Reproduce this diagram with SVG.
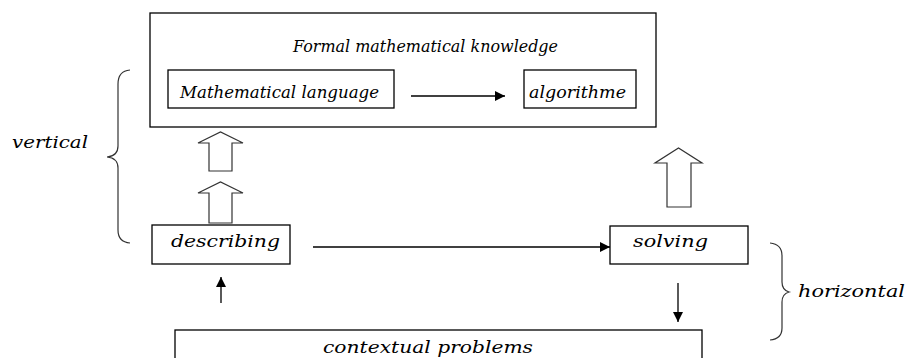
<svg xmlns="http://www.w3.org/2000/svg" width="907" height="358" viewBox="0 0 907 358">
<defs>
<marker id="ah" viewBox="0 0 10 10" refX="10" refY="5" markerWidth="10" markerHeight="10" markerUnits="userSpaceOnUse" orient="auto">
<path d="M0,0 L10,5 L0,10 z" fill="#000"/>
</marker>
</defs>
<style>
.box{fill:#fff;stroke:#000;stroke-width:1.3}
.t{font-family:"DejaVu Serif","Liberation Serif",serif;font-style:italic;font-size:17px;fill:#000}
.ln{stroke:#000;stroke-width:1.3;fill:none}
.hol{fill:#fff;stroke:#333;stroke-width:1.2}
.br{stroke:#333;stroke-width:1.2;fill:none}
</style>
<rect width="907" height="358" fill="#fff"/>
<g id="formal">
<rect class="box" x="150" y="13" width="506" height="114"/>
<text class="t" x="293" y="52" textLength="265" lengthAdjust="spacingAndGlyphs">Formal mathematical knowledge</text>
</g>
<g id="mathlang">
<rect class="box" x="168" y="70" width="226" height="38"/>
<text class="t" x="180" y="98" textLength="199" lengthAdjust="spacingAndGlyphs">Mathematical language</text>
</g>
<g id="algorithme">
<rect class="box" x="524" y="70" width="112" height="38"/>
<text class="t" x="529" y="98" textLength="97" lengthAdjust="spacingAndGlyphs">algorithme</text>
</g>
<g id="describing">
<rect class="box" x="152" y="225" width="138" height="39"/>
<text class="t" x="171" y="247" textLength="109" lengthAdjust="spacingAndGlyphs">describing</text>
</g>
<g id="solving">
<rect class="box" x="610" y="226" width="138" height="38"/>
<text class="t" x="633" y="247" textLength="75" lengthAdjust="spacingAndGlyphs">solving</text>
</g>
<g id="contextual">
<rect class="box" x="175" y="330" width="527" height="40"/>
<text class="t" x="323" y="353" textLength="210" lengthAdjust="spacingAndGlyphs">contextual problems</text>
</g>
<g id="vertical">
<path class="br" d="M130,70 Q118,71 118,84 L118,146 Q118,156 107,157 Q118,158 118,168 L118,230 Q118,242 130,243"/>
<text class="t" x="12" y="148" textLength="76" lengthAdjust="spacingAndGlyphs">vertical</text>
</g>
<g id="horizontal">
<path class="br" d="M770,243 Q782,244 782,256 L782,282 Q782,290 789,292 Q782,294 782,302 L782,328 Q782,339 770,340"/>
<text class="t" x="798" y="297" textLength="107" lengthAdjust="spacingAndGlyphs">horizontal</text>
</g>
<g id="connectors">
<line class="ln" x1="411" y1="96" x2="505" y2="96" marker-end="url(#ah)"/>
<line class="ln" x1="313" y1="247" x2="610" y2="247" marker-end="url(#ah)"/>
<line class="ln" x1="678" y1="283" x2="678" y2="322" marker-end="url(#ah)"/>
<line class="ln" x1="221" y1="303" x2="221" y2="277" marker-end="url(#ah)"/>
<path class="hol" d="M209,171 L209,143 L198,143 L220.5,132 L243,143 L232,143 L232,171 Z"/>
<path class="hol" d="M209,223 L209,193 L198,193 L220.5,182 L243,193 L232,193 L232,223 Z"/>
<path class="hol" d="M667,207 L667,163 L655,163 L678.5,148 L702,163 L691,163 L691,207 Z"/>
</g>
</svg>
